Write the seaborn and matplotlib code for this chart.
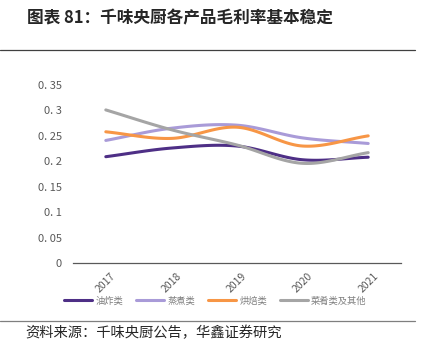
import matplotlib
matplotlib.use("Agg")
import matplotlib.pyplot as plt
import seaborn as sns
import pandas as pd
import numpy as np

# data
years = ["2017", "2018", "2019", "2020", "2021"]
fried = [0.209, 0.226, 0.230, 0.203, 0.208]      # 油炸类
steamed = [0.241, 0.265, 0.271, 0.246, 0.235]    # 蒸煮类
baked = [0.258, 0.245, 0.267, 0.230, 0.250]      # 烘焙类
dishes = [0.301, 0.262, 0.232, 0.196, 0.217]     # 菜肴类及其他

series_names = ["油炸类", "蒸煮类", "烘焙类", "菜肴类及其他"]
series_values = [fried, steamed, baked, dishes]
colors = ["#4e2f86", "#a99bd8", "#f79646", "#a5a5a5"]
ytick_vals = [0, 0.05, 0.1, 0.15, 0.2, 0.25, 0.3, 0.35]
ytick_labels = ["0", "0. 05", "0. 1", "0. 15", "0. 2", "0. 25", "0. 3", "0. 35"]


def smooth(y, n=30):
    # Catmull-Rom curve through the points, like Excel's smoothed lines
    y = np.asarray(y, dtype=float)
    p = np.concatenate([[2 * y[0] - y[1]], y, [2 * y[-1] - y[-2]]])
    xs, ys = [], []
    for i in range(len(y) - 1):
        t = np.linspace(0, 1, n, endpoint=(i == len(y) - 2))
        p0, p1, p2, p3 = p[i], p[i + 1], p[i + 2], p[i + 3]
        v = 0.5 * ((2 * p1) + (-p0 + p2) * t + (2 * p0 - 5 * p1 + 4 * p2 - p3) * t ** 2
                   + (-p0 + 3 * p1 - 3 * p2 + p3) * t ** 3)
        xs.append(i + t)
        ys.append(v)
    return np.concatenate(xs), np.concatenate(ys)


rows = []
for name, vals in zip(series_names, series_values):
    sx, sy = smooth(vals)
    rows.append(pd.DataFrame({"x": sx, "y": sy, "series": name}))
df = pd.concat(rows, ignore_index=True)

sns.set_style("white")
plt.rcParams["font.family"] = ["Noto Sans CJK SC", "DejaVu Sans"]

fig = plt.figure(figsize=(4.27, 3.56), dpi=100)
ax = fig.add_axes([73 / 427, 1 - 263 / 356, 328 / 427, 178 / 356])

sns.lineplot(data=df, x="x", y="y", hue="series", palette=colors,
             hue_order=series_names, linewidth=2.2, ax=ax, sort=False)

ax.set_xlim(-0.5, 4.5)
ax.set_ylim(0, 0.35)
ax.set_xticks(range(len(years)))
ax.set_xticklabels(years, rotation=45, color="#595959", fontsize=7.5)
ax.set_xticks(np.arange(-0.5, 5, 1), minor=True)
ax.tick_params(axis="x", which="major", length=0, pad=6)
ax.tick_params(axis="x", which="minor", length=3, width=0.8, color="#595959", direction="out")
ax.set_yticks(ytick_vals)
ax.set_yticklabels(ytick_labels, color="#595959", fontsize=8)
ax.tick_params(axis="y", length=0, pad=8)
ax.set_xlabel("")
ax.set_ylabel("")
for side in ["top", "right", "left"]:
    ax.spines[side].set_visible(False)
ax.spines["bottom"].set_color("#595959")
ax.spines["bottom"].set_linewidth(0.9)

ax.legend(loc="center", bbox_to_anchor=(0.434, -0.213), ncol=4, frameon=False,
          fontsize=6.7, handlelength=3.0, columnspacing=1.4, handletextpad=0.35,
          labelcolor="#7f7f7f")

fig.text(27 / 427, 1 - 18 / 356, "图表 81：千味央厨各产品毛利率基本稳定", fontsize=12,
         fontweight="bold", va="center", ha="left")
fig.add_artist(plt.Line2D([0, 415 / 427], [1 - 50 / 356] * 2, color="#404040", linewidth=0.9))
fig.add_artist(plt.Line2D([0, 415 / 427], [1 - 321 / 356] * 2, color="#7f7f7f", linewidth=0.9))
fig.text(25 / 427, 1 - 333 / 356, "资料来源：千味央厨公告，华鑫证券研究", fontsize=10.3,
         va="center", ha="left")

fig.savefig("out.png", dpi=100)
